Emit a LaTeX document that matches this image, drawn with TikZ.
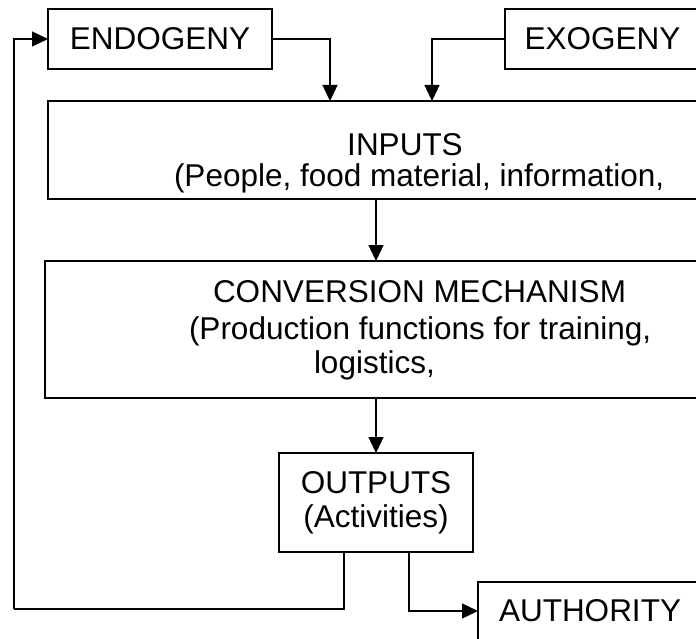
\documentclass[tikz,border=0pt]{standalone}
\usepackage{fontspec}
\setmainfont{Liberation Sans}
\usetikzlibrary{arrows.meta,calc}
\begin{document}
\begin{tikzpicture}[x=1pt,y=-1pt,
  box/.style={draw, line width=1.4pt, rectangle, inner sep=0pt, outer sep=0pt,
              font=\fontsize{31.5}{34}\selectfont, align=center},
  lbl/.style={inner sep=0pt, outer sep=0pt, font=\fontsize{31.5}{34}\selectfont, anchor=base west},
  wire/.style={line width=1.4pt},
  arr/.style={wire, -{Triangle[length=16pt,width=15pt]}}]
\useasboundingbox (0,0) rectangle (696,639);
\fill[white] (0,0) rectangle (696,639);
\clip (0,0) rectangle (696,639);

% boxes
\node[box, minimum width=224, minimum height=60] (endo) at (160,39) {ENDOGENY};
\node[box, minimum width=195, minimum height=60] (exo) at (602.5,39) {EXOGENY};
\node[box, minimum width=672, minimum height=98] (inputs) at (384,150) {};
\node[box, minimum width=675, minimum height=137] (conv) at (382.5,329.5) {};
\node[box, minimum width=194, minimum height=99] (outputs) at (376,502.5) {OUTPUTS\\(Activities)};
\node[box, minimum width=224, minimum height=58] (auth) at (590,611) {AUTHORITY};

% texts inside the wide boxes
\node[lbl, anchor=base] (inT1) at (405,156) {INPUTS};
\node[lbl] (inT2) at (174,187) {(People, food material, information,};
\node[lbl] (cvT1) at (213,302) {CONVERSION MECHANISM};
\node[lbl] (cvT2) at (189,339) {(Production functions for training,};
\node[lbl] (cvT3) at (314,373) {logistics,};

% connector end points
\coordinate (endoIn) at (330,101);
\coordinate (exoIn) at (432,101);
\coordinate (fbStart) at (344,552);
\coordinate (fbCorner) at (14,609);
\coordinate (auStart) at (409,552);

% connectors
\draw[arr] (endo.east) -| (endoIn);
\draw[arr] (exo.west) -| (exoIn);
\draw[arr] (inputs.south -| outputs.north) -- (conv.north -| outputs.north);
\draw[arr] (conv.south -| outputs.north) -- (outputs.north);
\draw[wire] (fbStart) |- (fbCorner);
\draw[arr] (fbCorner) |- (endo.west);
\draw[arr] (auStart) |- (auth.west);
\end{tikzpicture}
\end{document}
